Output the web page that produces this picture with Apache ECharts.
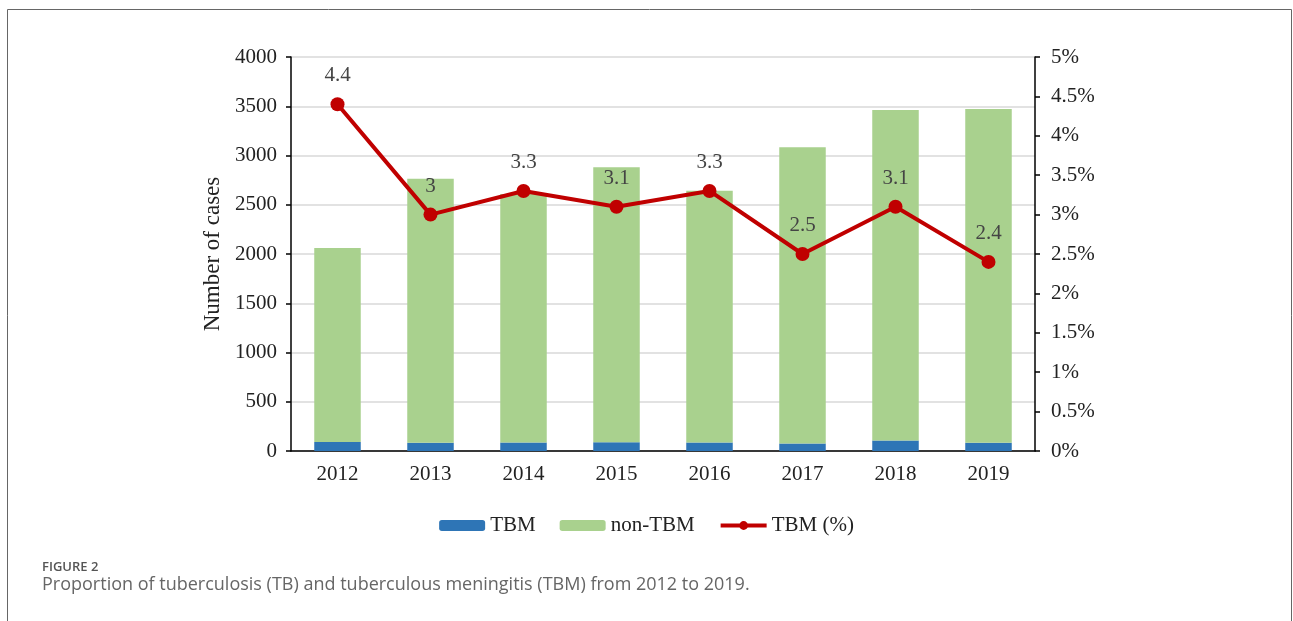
<!DOCTYPE html>
<html>
<head>
<meta charset="utf-8">
<script src="https://cdn.jsdelivr.net/npm/echarts@6/dist/echarts.min.js"></script>
<style>
html,body{margin:0;padding:0;background:#fff;}
#chart{width:1293px;height:621px;}
</style>
</head>
<body>
<div id="chart"></div>
<script>
const categories = ['2012','2013','2014','2015','2016','2017','2018','2019'];
const tbmCases = [91, 83, 86, 89, 87, 77, 107, 83];
const nonTbmCases = [1970, 2681, 2524, 2791, 2556, 3006, 3355, 3389];
const tbmPercent = [4.4, 3, 3.3, 3.1, 3.3, 2.5, 3.1, 2.4];
const leftTicks = {min: 0, max: 4000, interval: 500};
const rightTicks = {min: 0, max: 5, interval: 0.5};

const serif = '"Liberation Serif", "Times New Roman", serif';
const chart = echarts.init(document.getElementById('chart'), null, {renderer: 'canvas'});
chart.setOption({
  animation: false,
  backgroundColor: '#fff',
  graphic: [
    {type: 'rect', shape: {x: 7.5, y: 9.5, width: 1284, height: 640}, style: {fill: 'none', stroke: '#666', lineWidth: 1}},
    {type: 'text', left: 42, top: 561, style: {text: 'FIGURE 2', font: '600 13px "Open Sans", sans-serif', fill: '#555'}},
    {type: 'text', left: 42, top: 576, style: {text: 'Proportion of tuberculosis (TB) and tuberculous meningitis (TBM) from 2012 to 2019.', font: '18px "Open Sans", sans-serif', fill: '#666'}}
  ],
  grid: {left: 291, right: 258, top: 57, bottom: 170, containLabel: false},
  legend: {
    left: 'center', top: 510, itemGap: 24, itemWidth: 46, itemHeight: 11,
    textStyle: {fontFamily: serif, fontSize: 21, color: '#222'},
    data: ['TBM', 'non-TBM', {name: 'TBM (%)', itemStyle: {color: '#c00000'}, lineStyle: {width: 4, color: '#c00000'}}]
  },
  xAxis: {
    type: 'category', data: categories,
    axisLine: {lineStyle: {color: '#000', width: 1.5}},
    axisTick: {show: false},
    axisLabel: {fontFamily: serif, fontSize: 21, color: '#222', margin: 13}
  },
  yAxis: [
    {
      type: 'value', min: leftTicks.min, max: leftTicks.max, interval: leftTicks.interval,
      name: 'Number of cases', nameLocation: 'middle', nameGap: 66, nameRotate: 90,
      nameTextStyle: {fontFamily: serif, fontSize: 23, color: '#222'},
      axisLine: {show: true, lineStyle: {color: '#000', width: 1.5}},
      axisTick: {show: true, inside: false, length: 5, lineStyle: {color: '#000', width: 1.5}},
      axisLabel: {fontFamily: serif, fontSize: 21, color: '#222', margin: 14, formatter: v => String(v)},
      splitLine: {lineStyle: {color: '#d9d9d9', width: 1.5}}
    },
    {
      type: 'value', min: rightTicks.min, max: rightTicks.max, interval: rightTicks.interval,
      position: 'right',
      axisLine: {show: true, lineStyle: {color: '#000', width: 1.5}},
      axisTick: {show: true, inside: false, length: 5, lineStyle: {color: '#000', width: 1.5}},
      axisLabel: {fontFamily: serif, fontSize: 21, color: '#222', margin: 16, formatter: v => v + '%'},
      splitLine: {show: false}
    }
  ],
  series: [
    {name: 'TBM', type: 'bar', stack: 'cases', data: tbmCases, barWidth: '50%', itemStyle: {color: '#2e75b6'}},
    {name: 'non-TBM', type: 'bar', stack: 'cases', data: nonTbmCases, barWidth: '50%', itemStyle: {color: '#a9d18e'}},
    {
      name: 'TBM (%)', type: 'line', yAxisIndex: 1, data: tbmPercent,
      symbol: 'circle', symbolSize: 14,
      lineStyle: {color: '#c00000', width: 4},
      itemStyle: {color: '#c00000'},
      label: {show: true, position: 'top', distance: 11, fontFamily: serif, fontSize: 21, color: '#444'},
      z: 5
    }
  ]
});
</script>
</body>
</html>
